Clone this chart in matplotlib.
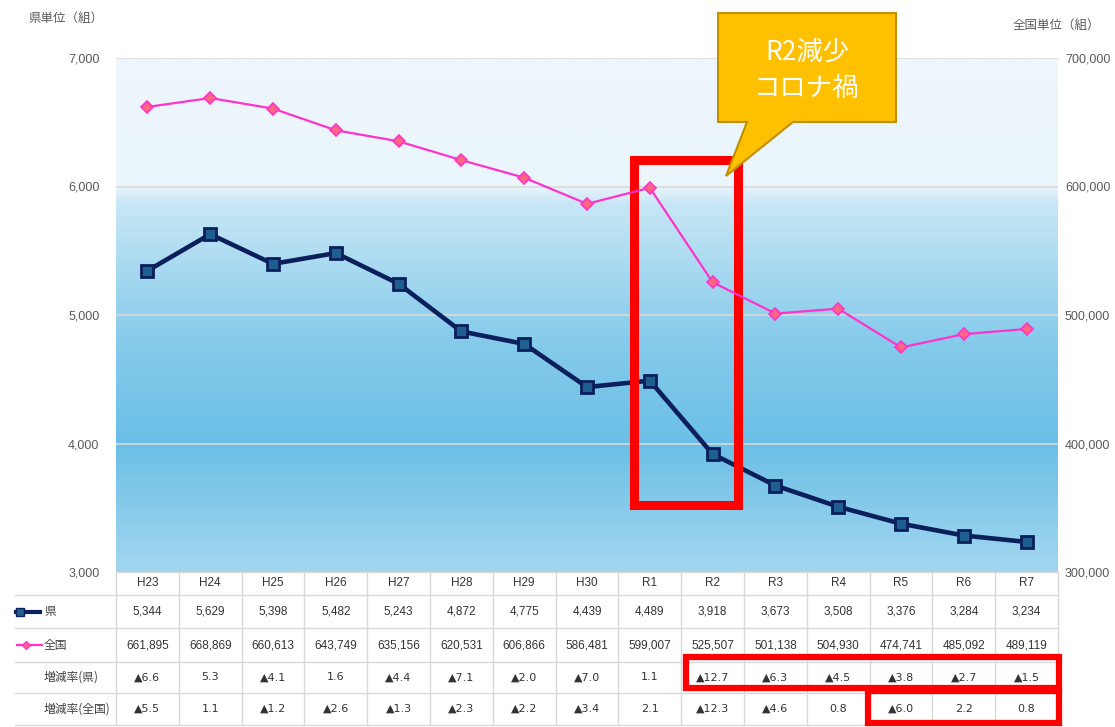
import matplotlib
matplotlib.use("Agg")
import matplotlib.pyplot as plt
import numpy as np
from matplotlib.colors import LinearSegmentedColormap
from matplotlib.patches import Polygon, Rectangle

plt.rcParams["font.family"] = ["Noto Sans CJK JP", "DejaVu Sans"]
NUM_FONT = ["Liberation Sans", "DejaVu Sans"]

years = ["H23", "H24", "H25", "H26", "H27", "H28", "H29", "H30",
         "R1", "R2", "R3", "R4", "R5", "R6", "R7"]
pref = [5344, 5629, 5398, 5482, 5243, 4872, 4775, 4439,
        4489, 3918, 3673, 3508, 3376, 3284, 3234]
national = [661895, 668869, 660613, 643749, 635156, 620531, 606866, 586481,
            599007, 525507, 501138, 504930, 474741, 485092, 489119]
rate_pref = ["▲6.6", "5.3", "▲4.1", "1.6", "▲4.4", "▲7.1", "▲2.0", "▲7.0",
             "1.1", "▲12.7", "▲6.3", "▲4.5", "▲3.8", "▲2.7", "▲1.5"]
rate_nat = ["▲5.5", "1.1", "▲1.2", "▲2.6", "▲1.3", "▲2.3", "▲2.2", "▲3.4",
            "2.1", "▲12.3", "▲4.6", "0.8", "▲6.0", "2.2", "0.8"]
left_ticks = [3000, 4000, 5000, 6000, 7000]
right_ticks = [300000, 400000, 500000, 600000, 700000]

W, H = 1115, 727
GREY = "#595959"
GRID = "#d9d9d9"
NAVY = "#0b1f5c"
MAGENTA = "#ff33cc"

fig = plt.figure(figsize=(W / 100, H / 100), dpi=100)

# plot area in pixels
L, R, T, B = 116, 1058, 58, 572
ax = fig.add_axes([L / W, 1 - B / H, (R - L) / W, (B - T) / H])
n = len(years)
x = np.arange(n)
ax.set_xlim(-0.5, n - 0.5)
ax.set_ylim(3000, 7000)

# background gradient
bg = LinearSegmentedColormap.from_list(
    "bg",
    [(0.0, "#a2d6ef"), (0.25, "#6bbfe6"), (0.45, "#86cbeb"),
     (0.72, "#c8e7f6"), (0.75, "#eaf5fc"), (1.0, "#eff6fc")],
)
grad = np.linspace(0, 1, 400).reshape(-1, 1)
ax.imshow(grad, cmap=bg, origin="lower", aspect="auto",
          extent=(-0.5, n - 0.5, 3000, 7000), zorder=0)

for v in left_ticks[1:]:
    ax.axhline(v, color=GRID, lw=1.2, zorder=1)

ax.set_yticks(left_ticks)
ax.set_yticklabels([f"{v:,}" for v in left_ticks], family=NUM_FONT)
ax.set_xticks([])
ax.tick_params(axis="y", length=0, pad=12, labelsize=9, labelcolor=GREY)
for s in ax.spines.values():
    s.set_visible(False)

ax2 = ax.twinx()
ax2.set_ylim(300000, 700000)
ax2.set_yticks(right_ticks)
ax2.set_yticklabels([f"{v:,}" for v in right_ticks], family=NUM_FONT)
ax2.tick_params(axis="y", length=0, pad=5, labelsize=9, labelcolor=GREY)
for s in ax2.spines.values():
    s.set_visible(False)

ax.plot(x, pref, color=NAVY, lw=3.3, marker="s", markersize=8.5,
        markerfacecolor="#1f5f8f", markeredgecolor=NAVY, markeredgewidth=2,
        zorder=4)
ax2.plot(x, national, color=MAGENTA, lw=1.6, marker="D", markersize=6,
         markerfacecolor="#ff6680", markeredgecolor=MAGENTA,
         markeredgewidth=1.2, zorder=4)

# red highlight box over R1-R2
ax.add_patch(Rectangle((7.75, 3525), 1.65, 6210 - 3525, fill=False,
                       edgecolor="#ff0000", lw=6.5, zorder=6, clip_on=False))

fig.text(28 / W, 1 - 18 / H, "県単位（組）", fontsize=9, color=GREY,
         va="center", ha="left")
fig.text(1100 / W, 1 - 25 / H, "全国単位（組）", fontsize=9, color=GREY,
         va="center", ha="right")

# data table
tab = fig.add_axes([L / W, 0, (R - L) / W, (H - B) / H])
tab.set_xlim(-0.5, n - 0.5)
tab.set_ylim(H, B)
tab.axis("off")
col_w = (R - L) / n


def cx(px):
    return (px - L) / col_w - 0.5


rows = [B, 595, 628, 662, 693, 725]
for i, yb in enumerate(rows):
    x0 = -0.5 if i == 0 else cx(15)
    tab.plot([x0, n - 0.5], [yb, yb], color=GRID, lw=1, clip_on=False)
for k in range(n + 1):
    tab.plot([k - 0.5, k - 0.5], [B, rows[-1]], color=GRID, lw=1,
             clip_on=False)

centers = [(rows[i] + rows[i + 1]) / 2 for i in range(len(rows) - 1)]
row_texts = [years, [f"{v:,}" for v in pref], [f"{v:,}" for v in national],
             rate_pref, rate_nat]
for r, texts in enumerate(row_texts):
    fam = "DejaVu Sans" if r >= 3 else NUM_FONT
    fs = 8 if r >= 3 else 8.5
    for i, t in enumerate(texts):
        tab.text(i, centers[r], t, ha="center", va="center", fontsize=fs,
                 color="#333333", family=fam)

tab.plot([cx(16), cx(40)], [centers[1]] * 2, color=NAVY, lw=3, clip_on=False)
tab.plot([cx(20)], [centers[1]], marker="s", markersize=6, color=NAVY,
         markerfacecolor="#1f5f8f", clip_on=False)
tab.plot([cx(17), cx(42)], [centers[2]] * 2, color=MAGENTA, lw=1.6,
         clip_on=False)
tab.plot([cx(26)], [centers[2]], marker="D", markersize=4.5, color=MAGENTA,
         markerfacecolor="#ff6680", clip_on=False)
labels = ["県", "全国", "増減率(県)", "増減率(全国)"]
for r, lab in enumerate(labels, start=1):
    tab.text(cx(44), centers[r], lab, ha="left", va="center", fontsize=8.5,
             color="#404040", clip_on=False)

tab.add_patch(Rectangle((cx(686.5), 656.5), cx(1059) - cx(686.5), 31.5,
                        fill=False, edgecolor="#ff0000", lw=4.5,
                        clip_on=False, zorder=5))
tab.add_patch(Rectangle((cx(868.5), 691), cx(1059) - cx(868.5), 32,
                        fill=False, edgecolor="#ff0000", lw=4.5,
                        clip_on=False, zorder=5))

# callout
ov = fig.add_axes([0, 0, 1, 1], zorder=10)
ov.set_xlim(0, W)
ov.set_ylim(H, 0)
ov.axis("off")
ov.patch.set_alpha(0)
ov.add_patch(Polygon([(718, 13), (896, 13), (896, 122), (793, 122),
                      (726, 176), (747, 122), (718, 122)], closed=True,
                     facecolor="#ffc000", edgecolor="#bf9000", lw=1.5))
ov.text(807, 52, "R2減少", ha="center", va="center", fontsize=19,
        color="white")
ov.text(807, 89, "コロナ禍", ha="center", va="center", fontsize=19,
        color="white")

fig.savefig("out.png", dpi=100)
